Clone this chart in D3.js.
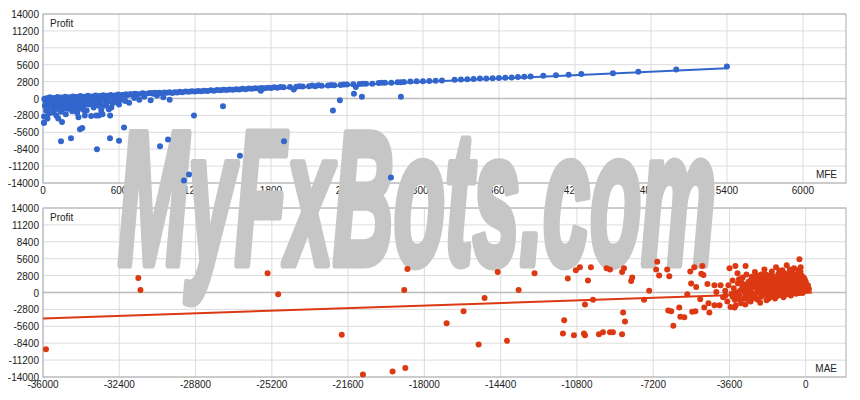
<!DOCTYPE html>
<html><head><meta charset="utf-8">
<script src="https://cdn.jsdelivr.net/npm/d3@7"></script>
<style>body{margin:0;background:#fff}text{font-family:Arial,"Liberation Sans",sans-serif}</style>
</head><body><svg id="c" width="860" height="400"></svg>
<script>
const yTicks=[-14000,-11200,-8400,-5600,-2800,0,2800,5600,8400,11200,14000];
const mfeTicks=[0,600,1200,1800,2400,3000,3600,4200,4800,5400,6000];
const maeTicks=[-36000,-32400,-28800,-25200,-21600,-18000,-14400,-10800,-7200,-3600,0];
// MFE panel points [MFE, Profit]
const mfePoints=[
[10,-100],[20,-400],[30,-800],[15,-1200],[40,-1600],[25,-2000],[50,-300],[60,-700],[70,-1100],[45,-2500],[8,-3000],[8,-4000],[35,-3300],[80,-1500],[90,-2000],[100,-400],[110,-900],[120,-1300],[130,-1800],[140,-2200],[150,-600],[160,-1000],[170,-1400],[180,-2600],[190,-300],[200,-800],[210,-1200],[220,-1700],[230,-2100],[240,-500],[250,-900],[260,-1500],[270,-2400],[280,-3100],[290,-200],[300,-700],[310,-1100],[320,-1900],[330,-2800],[340,-100],[350,-600],[360,-1000],[380,-300],[390,-800],[400,-1500],[420,-2800],[430,-400],[450,-900],[470,-2600],[480,-1200],[490,-200],[510,-500],[530,-2800],[540,-1500],[560,-300],[580,-600],[600,-1000],[620,-200],[650,-400],[680,-700],[720,100],[760,-200],[800,300],[850,-300],[900,500],[950,200],[1000,-200],
[20,0],[40,100],[60,-200],[80,-500],[100,100],[120,-100],[140,-400],[160,0],[180,-200],[200,100],[220,-300],[240,0],[260,200],[280,-100],[300,100],[320,-400],[340,300],[360,100],[380,200],[400,-200],[420,300],[440,100],[460,400],[480,200],[500,300],[520,100],[540,400],[560,300],[580,500],[600,400],[630,600],[660,500],[690,700],[30,-1700],[55,-1300],[75,-2300],[95,-1000],[105,-2800],[125,-600],[135,-1500],[155,-1800],[165,-300],[185,-1100],[195,-1700],[215,-700],[225,-1400],[245,-1900],[255,-300],[275,-1000],[285,-1700],[305,-400],[315,-1400],[335,-1000],[345,-2000],[365,-500],[395,-1100],[410,-700],[440,-1200],[460,-300],[500,-900],[520,-1700],[550,-800],[590,-300],
[55,200],[85,100],[115,250],[145,150],[175,300],[205,200],[235,350],[265,250],[295,400],[325,300],[355,450],[385,350],[415,500],[445,400],[475,550],[505,450],[535,600],[565,500],[595,650],[625,550],[655,700],[685,650],[715,750],[745,700],[775,800],[805,750],[835,850],[870,800],[900,900],[940,850],[980,950],[1020,900],[1060,1000],[1100,1050],[1150,1100],[1200,1150],[1250,1200],[1300,1250],[1350,1300],[1400,1350],[1450,1400],[1500,1450],[1550,1500],[1600,1550],[1650,1600],[1700,1650],[1720,1300],[1750,1700],[1800,1750],[1850,1800],[1900,1850],[1950,1900],[1980,1500],[2000,1950],[2050,2000],[2100,2050],[2150,2050],[2200,2100],[2250,2150],[2300,2200],[2350,2250],[2400,2300],[2450,2350],[2470,1900],[2500,2400],[2550,2450],[2600,2450],[2650,2550],[2700,2600],[2750,2600],[2800,2700],[2850,2750],[2900,2800],[2950,2850],[3000,2850],[3050,2900],[3100,2950],[3150,3000],[3250,3100],[3300,3150],[3400,3250],[3450,3300],[3550,3350],[3650,3450],[3750,3550],[3850,3650],[3950,3750],[4150,3950],[4250,4050],[4500,4200],[4700,4450],[5000,4800],[5400,5300],
[730,800],[790,850],[850,900],[880,950],[920,950],[960,1000],[1000,1050],[1040,1050],[1080,1100],[1125,1150],[1175,1200],[1225,1250],[1275,1300],[1325,1350],[1375,1400],[1425,1450],[1475,1500],[1525,1550],[1575,1600],[1625,1650],[1675,1700],[1725,1750],[1775,1800],[1825,1850],[1875,1900],[2025,2050],[2125,2150],[2175,2200],[2275,2250],[2375,2300],[2525,2450],[2675,2600],[2825,2700],[3350,3200],[3500,3300],[3600,3400],[3700,3500],[3800,3600],[4050,3850],
[8,-4000],[142,-7100],[221,-6600],[292,-5100],[310,-4900],[426,-8400],[529,-6600],[600,-7000],[640,-4800],[924,-7900],[987,-6800],[1113,-13600],[1153,-12600],[1192,-2800],[1421,-1300],[1555,-9500],[1903,-7100],[2289,-2000],[2344,-300],[2455,800],[2518,300],[2747,-13100],[2826,300],[380,-2900],[440,-2800],[460,-2000],[520,-1800],[120,-3300],[150,-3900]
];
const mfeLine=[[0,-100],[5400,5000]];
// MAE panel points [MAE, Profit]
const maePoints=[
[-35860,-9400],[-31500,2400],[-31400,400],[-25400,3200],[-24900,-300],[-21900,-7000],[-20900,-13600],[-19500,-13100],[-18900,-12500],[-18950,400],[-18800,3900],[-16950,-5100],[-16150,-3100],[-15440,-8600],[-15160,-900],[-14540,3400],[-14100,-8000],[-13550,400],[-12800,3200],[-11400,-4600],[-10850,3700],[-10470,-6800],[-10040,-1200],[-9760,-6900],[-9400,4000],[-9240,-6600],[-8670,-6900],[-8580,4000],
[-10660,4200],[-10140,4200],[-11230,2300],[-10280,2000],[-10420,-2000],[-11460,-6800],[-10940,-7100],[-10420,-7100],[-9570,-6600],[-9100,-6600],[-9240,3800],[-8670,3400],[-8190,2500],[-8240,1900],[-8620,-3300],[-8530,-4800],[-7630,-1200],[-7390,300],[-7060,3800],[-7010,5100],[-6920,2800],[-6540,3800],[-6440,2700],[-6490,-3000],[-6350,-3100],[-5970,-2500],[-6250,-5500],[-5920,-4000],[-5730,-4100],[-5590,-300],[-5450,3500],[-5260,4200],[-5410,1500],[-5170,900],[-4930,3100],[-4880,4400],[-4830,2900],[-4980,-1100],[-5360,-3200],[-5210,-3100],[-4790,-2500],[-4640,1400],[-4590,-1800],[-4550,-3300],[-4310,-2100],[-4310,1200],[-4020,1200],[-4220,100],[-3600,4000],[-3320,4400],[-2840,4400],[-3220,3200],[-2980,2500],[-4070,-2100],[-3790,-500],[-3360,-2500],[-300,5500],[-240,4200],
[-3900,-800],[-3800,300],[-3700,-1500],[-3650,1200],[-3550,-2400],[-3500,-200],[-3450,2000],[-3400,700],[-3350,-1200],[-3300,-2100],[-3200,1500],[-3150,-600],[-3100,300],[-3050,-1800],[-3000,2400],[-2950,1000],[-2900,-1000],[-2850,-2000],[-2800,3000],[-2750,200],[-2700,1800],[-2650,-600],[-2600,-1500],[-2550,2600],[-2500,900],[-2450,-200],[-2400,3400],[-2350,1500],[-2300,-1100],[-2250,400],[-2200,2200],[-2150,-1700],[-2100,3000],[-2050,1100],[-2000,-400],[-1950,3800],[-1900,2000],[-1850,-1300],[-1800,600],[-1750,2800],[-1700,1400],[-1650,-700],[-1600,3500],[-1550,200],[-1500,2200],[-1450,-1000],[-1400,4200],[-1350,1000],[-1300,3000],[-1250,-400],[-1200,1800],[-1150,600],[-1100,3700],[-1050,-800],[-1000,2500],[-950,1200],[-900,4500],[-850,200],[-800,3200],[-750,1800],[-700,-500],[-650,2600],[-600,800],[-550,4000],[-500,1500],[-450,-200],[-400,3000],[-350,2200],[-300,600],[-250,3500],[-200,1400],[-150,-100],[-100,2500],[-50,800],[0,1800],[50,300],[100,1200],[150,600],
[-3000,1500],[-2700,500],[-2400,1500],[-2200,0],[-2000,2200],[-1800,1500],[-1600,800],[-1400,2000],[-1200,2800],[-1000,400],[-800,1200],[-600,2800],[-400,400],[-300,1500],[-200,2800],[-100,400],[-2600,2000],[-2300,2800],[-1900,3000],[-1500,1200],[-1300,-200],[-1100,1200],[-900,2000],[-700,1000],[-500,3000],[-350,100],[-150,1800],[-50,2200],[-3200,-800],[-2900,200],[-2500,-900],[-2100,900],[-1700,200],[-1300,2200],[-900,-300],[-600,1800],[-250,1000],[-450,2400],[-750,3800],[-1000,3200],[-1250,3600],
[-3300,0],[-3100,-1300],[-3000,700],[-2800,-300],[-2700,-1200],[-2600,300],[-2500,1700],[-2400,-500],[-2300,600],[-2200,1200],[-2100,-700],[-2000,500],[-1900,1200],[-1800,-500],[-1700,2200],[-1600,-200],[-1500,400],[-1400,900],[-1300,600],[-1200,-100],[-1100,300],[-1000,1500],[-900,800],[-800,-100],[-700,2200],[-600,100],[-500,700],[-400,1800],[-300,-100],[-200,600],[-100,1300],[0,400],[50,1100],[-2650,1200],[-2350,2300],[-2050,1700],[-1750,-1000],[-1450,1600],[-1150,2200],[-850,2600],[-550,1100],[-250,2000],[-3450,-700],[-3150,2200],[-2850,1300],[-2550,-300],[-2250,-1200],[-1950,300],[-1650,1000],[-1350,-600],[-1050,300],[-750,400],[-450,1200],[-150,800],[-1550,2700],[-1250,1300],[-950,3000],[-650,3400],[-350,3700],[-1850,2500],[-2150,2600]
];
const maeLine=[[-36000,-4300],[300,0]];

const svg=d3.select("#c");
const L=43,R=846;
function panel(top,bottom,xDom,ticks,lab){
  const x=d3.scaleLinear().domain(xDom).range([L,R]);
  const y=d3.scaleLinear().domain([-14000,14000]).range([bottom,top]);
  const g=svg.append("g");
  g.selectAll(".vg").data(ticks).join("line").attr("x1",d=>x(d)).attr("x2",d=>x(d)).attr("y1",top).attr("y2",bottom).attr("stroke","#dcdcdc");
  g.selectAll(".hg").data(yTicks).join("line").attr("x1",L).attr("x2",R).attr("y1",d=>y(d)).attr("y2",d=>y(d)).attr("stroke",d=>d===0?"#bdbdbd":"#dcdcdc").attr("stroke-width",d=>d===0?1.5:1);
  g.append("rect").attr("x",L).attr("y",top).attr("width",R-L).attr("height",bottom-top).attr("fill","none").attr("stroke","#aaa");
  g.selectAll(".yl").data(yTicks).join("text").attr("x",L-4).attr("y",d=>y(d)+4).attr("text-anchor","end").attr("font-size",10).attr("fill","#222").text(d=>d);
  g.selectAll(".xl").data(ticks).join("text").attr("x",d=>x(d)).attr("y",bottom+11).attr("text-anchor","middle").attr("font-size",10).attr("fill","#222").text(d=>d);
  g.append("text").attr("x",L+7).attr("y",top+13).attr("font-size",10).attr("fill","#222").text("Profit");
  g.append("text").attr("x",R-9).attr("y",bottom-5).attr("text-anchor","end").attr("font-size",10).attr("fill","#222").text(lab);
  return {x,y};
}
const p1=panel(14,183,[0,6340],mfeTicks,"MFE");
const p2=panel(208,377,[-36000,1900],maeTicks,"MAE");
svg.append("text").attr("x",118).attr("y",264).attr("font-size",190).attr("font-weight","bold").attr("font-style","italic")
  .attr("textLength",598).attr("lengthAdjust","spacingAndGlyphs").attr("fill","#c6c6c6")
  .attr("stroke","#c6c6c6").attr("stroke-width",9).attr("stroke-linejoin","round").text("MyFxBots.com");
function draw(p,pts,line,color){
  svg.append("g").selectAll("circle").data(pts).join("circle").attr("cx",d=>p.x(d[0])).attr("cy",d=>p.y(d[1])).attr("r",3).attr("fill",color);
  svg.append("path").datum(line).attr("d",d3.line().x(d=>p.x(d[0])).y(d=>p.y(d[1]))).attr("stroke",color).attr("stroke-width",2).attr("fill","none");
}
draw(p1,mfePoints,mfeLine,"#3366cc");
draw(p2,maePoints,maeLine,"#dc3912");
</script></body></html>
